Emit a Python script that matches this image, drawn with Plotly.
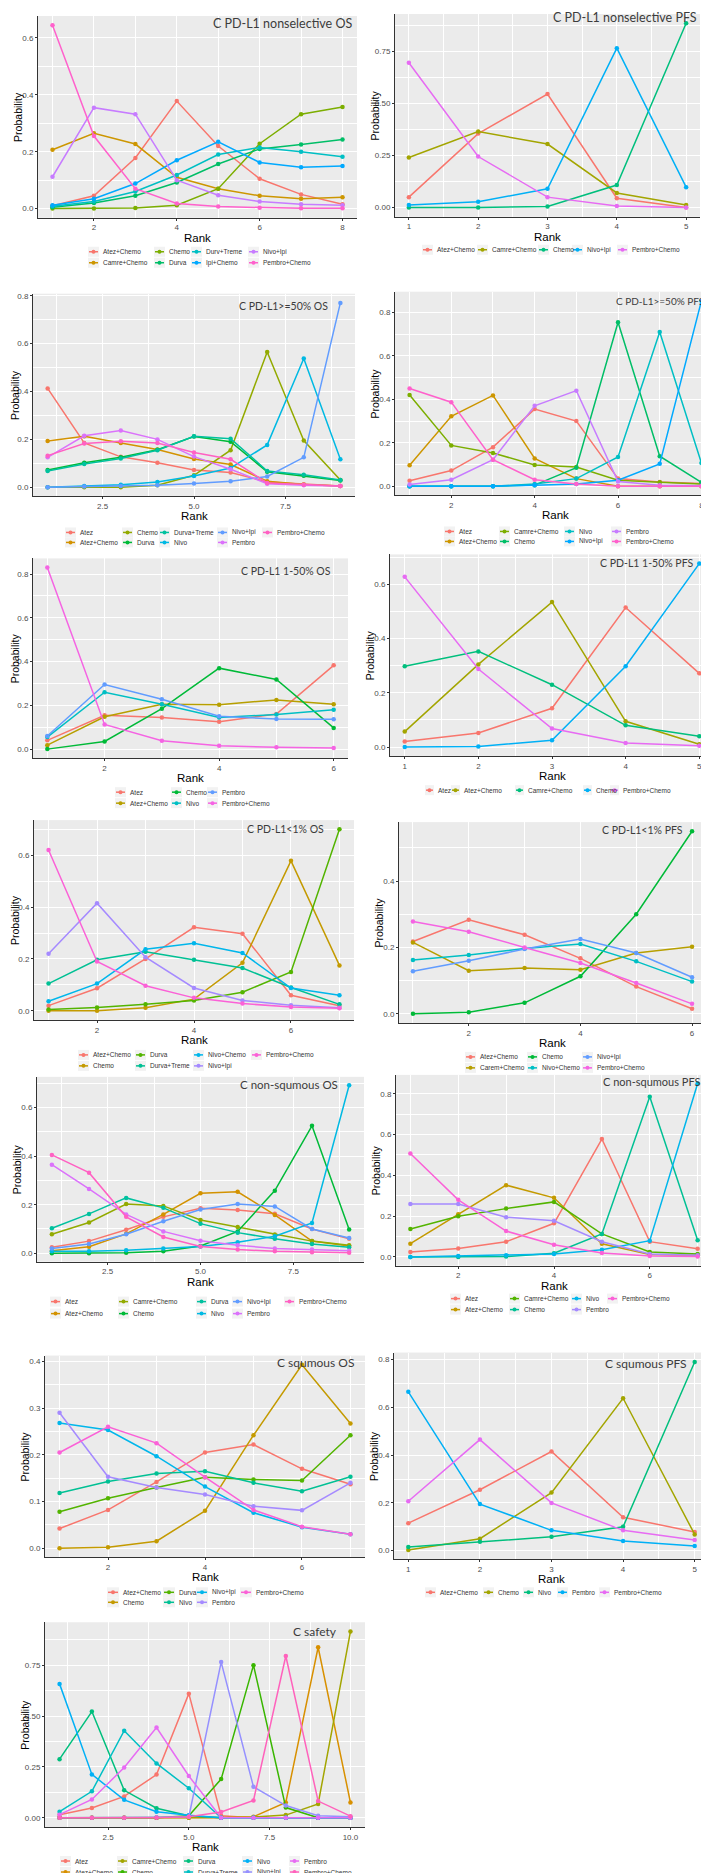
import plotly.graph_objects as go

W, H = 709, 1873

# ---------------- data (rank probabilities) ----------------
P1_NAMES = ["Atez+Chemo", "Camre+Chemo", "Chemo", "Durva", "Durv+Treme", "Ipi+Chemo", "Nivo+Ipi", "Pembro+Chemo"]
P1_PROBS = [
    [0.010, 0.045, 0.178, 0.378, 0.220, 0.105, 0.050, 0.015],
    [0.207, 0.265, 0.227, 0.110, 0.070, 0.045, 0.035, 0.040],
    [0.000, 0.000, 0.002, 0.012, 0.070, 0.228, 0.332, 0.357],
    [0.005, 0.020, 0.045, 0.092, 0.157, 0.210, 0.225, 0.243],
    [0.008, 0.025, 0.060, 0.118, 0.190, 0.215, 0.200, 0.182],
    [0.012, 0.035, 0.088, 0.170, 0.235, 0.162, 0.145, 0.150],
    [0.112, 0.355, 0.332, 0.100, 0.047, 0.025, 0.015, 0.012],
    [0.645, 0.255, 0.070, 0.018, 0.007, 0.003, 0.001, 0.001],
]

P2_NAMES = ["Atez+Chemo", "Camre+Chemo", "Chemo", "Nivo+Ipi", "Pembro+Chemo"]
P2_PROBS = [
    [0.050, 0.355, 0.545, 0.045, 0.000],
    [0.240, 0.365, 0.305, 0.070, 0.012],
    [0.000, 0.000, 0.005, 0.108, 0.885],
    [0.012, 0.028, 0.090, 0.765, 0.098],
    [0.695, 0.245, 0.050, 0.008, 0.000],
]

P3_NAMES = ["Atez", "Atez+Chemo", "Chemo", "Durva", "Durva+Treme", "Nivo", "Nivo+Ipi", "Pembro", "Pembro+Chemo"]
P3_PROBS = [
    [0.413, 0.185, 0.127, 0.102, 0.072, 0.062, 0.022, 0.012, 0.005],
    [0.193, 0.213, 0.185, 0.158, 0.118, 0.095, 0.025, 0.012, 0.005],
    [0.000, 0.000, 0.000, 0.008, 0.050, 0.155, 0.565, 0.195, 0.030],
    [0.072, 0.102, 0.125, 0.157, 0.212, 0.190, 0.065, 0.048, 0.028],
    [0.068, 0.097, 0.120, 0.155, 0.213, 0.203, 0.068, 0.052, 0.030],
    [0.000, 0.005, 0.010, 0.022, 0.047, 0.080, 0.177, 0.538, 0.117],
    [0.000, 0.003, 0.005, 0.008, 0.016, 0.025, 0.045, 0.125, 0.770],
    [0.125, 0.215, 0.237, 0.200, 0.128, 0.075, 0.015, 0.008, 0.005],
    [0.132, 0.183, 0.192, 0.185, 0.145, 0.117, 0.018, 0.010, 0.005],
]

P4_NAMES = ["Atez", "Atez+Chemo", "Camre+Chemo", "Chemo", "Nivo", "Nivo+Ipi", "Pembro", "Pembro+Chemo"]
P4_PROBS = [
    [0.025, 0.072, 0.180, 0.355, 0.300, 0.035, 0.020, 0.012],
    [0.097, 0.322, 0.418, 0.128, 0.035, 0.000, 0.000, 0.000],
    [0.420, 0.188, 0.153, 0.098, 0.088, 0.028, 0.018, 0.010],
    [0.000, 0.000, 0.000, 0.005, 0.085, 0.755, 0.138, 0.018],
    [0.000, 0.000, 0.000, 0.010, 0.035, 0.135, 0.710, 0.107],
    [0.000, 0.000, 0.000, 0.005, 0.010, 0.028, 0.103, 0.853],
    [0.008, 0.030, 0.122, 0.370, 0.440, 0.022, 0.005, 0.002],
    [0.450, 0.387, 0.122, 0.030, 0.010, 0.000, 0.000, 0.000],
]

P5_NAMES = ["Atez", "Atez+Chemo", "Chemo", "Nivo", "Pembro", "Pembro+Chemo"]
P5_PROBS = [
    [0.040, 0.155, 0.145, 0.125, 0.160, 0.383],
    [0.018, 0.148, 0.205, 0.203, 0.225, 0.205],
    [0.000, 0.035, 0.185, 0.370, 0.318, 0.097],
    [0.055, 0.260, 0.205, 0.145, 0.158, 0.180],
    [0.060, 0.295, 0.228, 0.150, 0.138, 0.137],
    [0.830, 0.113, 0.038, 0.015, 0.008, 0.005],
]

P6_NAMES = ["Atez", "Atez+Chemo", "Camre+Chemo", "Chemo", "Pembro+Chemo"]
P6_PROBS = [
    [0.020, 0.052, 0.143, 0.515, 0.272],
    [0.057, 0.305, 0.535, 0.095, 0.010],
    [0.298, 0.353, 0.230, 0.080, 0.040],
    [0.000, 0.002, 0.025, 0.298, 0.677],
    [0.628, 0.288, 0.068, 0.015, 0.005],
]

P7_NAMES = ["Atez+Chemo", "Chemo", "Durva", "Durva+Treme", "Nivo+Chemo", "Nivo+Ipi", "Pembro+Chemo"]
P7_PROBS = [
    [0.020, 0.087, 0.200, 0.322, 0.297, 0.060, 0.020],
    [0.000, 0.000, 0.012, 0.045, 0.185, 0.578, 0.175],
    [0.005, 0.013, 0.025, 0.040, 0.072, 0.150, 0.700],
    [0.105, 0.197, 0.228, 0.197, 0.165, 0.090, 0.025],
    [0.037, 0.105, 0.237, 0.260, 0.223, 0.088, 0.060],
    [0.220, 0.415, 0.207, 0.088, 0.040, 0.022, 0.012],
    [0.620, 0.190, 0.097, 0.050, 0.028, 0.015, 0.010],
]

P8_NAMES = ["Atez+Chemo", "Carem+Chemo", "Chemo", "Nivo+Chemo", "Nivo+Ipi", "Pembro+Chemo"]
P8_PROBS = [
    [0.218, 0.283, 0.238, 0.167, 0.082, 0.015],
    [0.215, 0.130, 0.138, 0.133, 0.183, 0.202],
    [0.000, 0.005, 0.033, 0.113, 0.300, 0.550],
    [0.162, 0.177, 0.197, 0.210, 0.158, 0.097],
    [0.128, 0.160, 0.195, 0.225, 0.183, 0.110],
    [0.278, 0.247, 0.200, 0.153, 0.093, 0.030],
]

P9_NAMES = ["Atez", "Atez+Chemo", "Camre+Chemo", "Chemo", "Durva", "Nivo", "Nivo+Ipi", "Pembro", "Pembro+Chemo"]
P9_PROBS = [
    [0.025, 0.050, 0.097, 0.150, 0.185, 0.178, 0.163, 0.100, 0.060],
    [0.010, 0.027, 0.080, 0.160, 0.247, 0.253, 0.158, 0.050, 0.030],
    [0.078, 0.127, 0.203, 0.195, 0.137, 0.108, 0.077, 0.050, 0.033],
    [0.000, 0.000, 0.002, 0.008, 0.030, 0.090, 0.258, 0.525, 0.098],
    [0.103, 0.162, 0.228, 0.187, 0.122, 0.085, 0.060, 0.038, 0.025],
    [0.008, 0.008, 0.012, 0.020, 0.028, 0.045, 0.070, 0.125, 0.692],
    [0.020, 0.038, 0.078, 0.132, 0.180, 0.203, 0.193, 0.100, 0.063],
    [0.365, 0.265, 0.160, 0.090, 0.052, 0.033, 0.020, 0.015, 0.010],
    [0.405, 0.332, 0.150, 0.067, 0.028, 0.015, 0.008, 0.004, 0.002],
]

P10_NAMES = ["Atez", "Atez+Chemo", "Camre+Chemo", "Chemo", "Nivo", "Pembro", "Pembro+Chemo"]
P10_PROBS = [
    [0.025, 0.042, 0.075, 0.165, 0.578, 0.075, 0.040],
    [0.065, 0.210, 0.352, 0.290, 0.065, 0.012, 0.008],
    [0.137, 0.200, 0.237, 0.270, 0.113, 0.025, 0.015],
    [0.000, 0.000, 0.002, 0.018, 0.113, 0.785, 0.082],
    [0.000, 0.005, 0.008, 0.015, 0.035, 0.080, 0.850],
    [0.260, 0.260, 0.195, 0.177, 0.075, 0.015, 0.008],
    [0.507, 0.280, 0.127, 0.060, 0.020, 0.005, 0.002],
]

P11_NAMES = ["Atez+Chemo", "Chemo", "Durva", "Nivo", "Nivo+Ipi", "Pembro", "Pembro+Chemo"]
P11_PROBS = [
    [0.042, 0.082, 0.142, 0.205, 0.222, 0.170, 0.137],
    [0.000, 0.002, 0.015, 0.080, 0.242, 0.393, 0.267],
    [0.078, 0.107, 0.130, 0.152, 0.147, 0.145, 0.242],
    [0.118, 0.143, 0.160, 0.165, 0.140, 0.122, 0.153],
    [0.268, 0.253, 0.197, 0.132, 0.076, 0.045, 0.030],
    [0.290, 0.153, 0.130, 0.115, 0.090, 0.081, 0.140],
    [0.205, 0.260, 0.225, 0.152, 0.082, 0.046, 0.030],
]

P12_NAMES = ["Atez+Chemo", "Chemo", "Nivo", "Pembro", "Pembro+Chemo"]
P12_PROBS = [
    [0.115, 0.255, 0.415, 0.140, 0.078],
    [0.003, 0.050, 0.243, 0.638, 0.068],
    [0.015, 0.037, 0.058, 0.100, 0.790],
    [0.665, 0.195, 0.085, 0.040, 0.020],
    [0.207, 0.465, 0.200, 0.085, 0.045],
]

P13_NAMES = ["Atez", "Atez+Chemo", "Camre+Chemo", "Chemo", "Durva", "Durva+Treme", "Nivo", "Nivo+Ipi", "Pembro", "Pembro+Chemo"]
P13_PROBS = [
    [0.015, 0.048, 0.105, 0.212, 0.610, 0.010, 0.000, 0.000, 0.000, 0.000],
    [0.000, 0.000, 0.000, 0.000, 0.000, 0.000, 0.005, 0.075, 0.838, 0.075],
    [0.000, 0.000, 0.000, 0.000, 0.000, 0.000, 0.003, 0.013, 0.068, 0.915],
    [0.000, 0.000, 0.000, 0.000, 0.010, 0.190, 0.750, 0.050, 0.000, 0.000],
    [0.288, 0.522, 0.135, 0.047, 0.010, 0.000, 0.000, 0.000, 0.000, 0.000],
    [0.030, 0.130, 0.428, 0.267, 0.145, 0.000, 0.000, 0.000, 0.000, 0.000],
    [0.658, 0.213, 0.088, 0.030, 0.012, 0.000, 0.000, 0.000, 0.000, 0.000],
    [0.000, 0.000, 0.000, 0.003, 0.005, 0.765, 0.152, 0.060, 0.010, 0.005],
    [0.015, 0.090, 0.247, 0.443, 0.205, 0.000, 0.000, 0.000, 0.000, 0.000],
    [0.000, 0.000, 0.000, 0.000, 0.005, 0.028, 0.085, 0.795, 0.082, 0.008],
]

TITLES = ["C PD-L1 nonselective OS", "C PD-L1 nonselective PFS",
          "C PD-L1>=50% OS", "C PD-L1>=50% PFS",
          "C PD-L1 1-50% OS", "C PD-L1 1-50% PFS",
          "C PD-L1<1% OS", "C PD-L1<1% PFS",
          "C non-squmous OS", "C non-squmous PFS",
          "C squmous OS", "C squmous PFS", "C safety"]

# ggplot2 default hue palettes
HUE = {
    5: ["#F8766D", "#A3A500", "#00BF7D", "#00B0F6", "#E76BF3"],
    6: ["#F8766D", "#B79F00", "#00BA38", "#00BFC4", "#619CFF", "#F564E3"],
    7: ["#F8766D", "#C49A00", "#53B400", "#00C094", "#00B6EB", "#A58AFF", "#FB61D7"],
    8: ["#F8766D", "#CD9600", "#7CAE00", "#00BE67", "#00BFC4", "#00A9FF", "#C77CFF", "#FF61CC"],
    9: ["#F8766D", "#D39200", "#93AA00", "#00BA38", "#00C19F", "#00B9E3", "#619CFF", "#DB72FB", "#FF61C3"],
    10: ["#F8766D", "#D89000", "#A3A500", "#39B600", "#00BF7D", "#00BFC4", "#00B0F6", "#9590FF", "#E76BF3", "#FF62BC"],
}

# ---------------- layout of each panel (pixels in the 709 x 1873 page) ----------------
# box = (left, right, top, bottom) of the grey panel
PANELS = [
    dict(names=P1_NAMES, probs=P1_PROBS, box=(30, 349, 6, 208), xt=[2, 4, 6, 8], ydt=0.2,
         title=(346, 14, 12.5), leg_rows=[242, 253], leg_cols=[81, 147, 184, 241]),
    dict(names=P2_NAMES, probs=P2_PROBS, box=(387, 692, 4, 207), xt=[1, 2, 3, 4, 5], ydt=0.25,
         title=(691, 8, 12.5), leg_rows=[240], leg_cols=[415, 470, 531, 565, 610]),
    dict(names=P3_NAMES, probs=P3_PROBS, box=(25, 347, 284, 487), xt=[2.5, 5.0, 7.5], ydt=0.2,
         title=(322, 296, 10.5), leg_rows=[523, 533], leg_cols=[58, 115, 152, 210, 255]),
    dict(names=P4_NAMES, probs=P4_PROBS, box=(387, 708, 282, 486), xt=[2, 4, 6, 8], ydt=0.2,
         title=(698, 291, 10), leg_rows=[522, 532], leg_cols=[437, 492, 557, 604]),
    dict(names=P5_NAMES, probs=P5_PROBS, box=(25, 340, 549, 749), xt=[2, 4, 6], ydt=0.2,
         title=(325, 562, 10.5), leg_rows=[783, 794], leg_cols=[108, 164, 200]),
    dict(names=P6_NAMES, probs=P6_PROBS, box=(382, 706, 545, 747), xt=[1, 2, 3, 4, 5], ydt=0.2,
         title=(687, 554, 10.5), leg_rows=[781], leg_cols=[418, 444, 508, 576, 603], to=10),
    dict(names=P7_NAMES, probs=P7_PROBS, box=(26, 346, 811, 1011), xt=[2, 4, 6], ydt=0.2,
         title=(318, 820, 10.5), leg_rows=[1046, 1057], leg_cols=[71, 128, 186, 244]),
    dict(names=P8_NAMES, probs=P8_PROBS, box=(391, 698, 813, 1014), xt=[2, 4, 6], ydt=0.2,
         title=(677, 821, 10.5), leg_rows=[1048, 1059], leg_cols=[458, 520, 575]),
    dict(names=P9_NAMES, probs=P9_PROBS, box=(29, 356, 1068, 1253), xt=[2.5, 5.0, 7.5], ydt=0.2,
         title=(332, 1076, 11.5), leg_rows=[1293, 1305], leg_cols=[43, 111, 189, 225, 277]),
    dict(names=P10_NAMES, probs=P10_PROBS, box=(388, 704, 1066, 1257), xt=[2, 4, 6], ydt=0.2,
         title=(694, 1073, 11), leg_rows=[1290, 1301], leg_cols=[443, 502, 564, 600]),
    dict(names=P11_NAMES, probs=P11_PROBS, box=(37, 357, 1347, 1549), xt=[2, 4, 6], ydt=0.1,
         title=(348, 1354, 12), leg_rows=[1584, 1594], leg_cols=[100, 156, 189, 233], to=13),
    dict(names=P12_NAMES, probs=P12_PROBS, box=(386, 701, 1344, 1551), xt=[1, 2, 3, 4, 5], ydt=0.2,
         title=(681, 1355, 12), leg_rows=[1584], leg_cols=[418, 476, 516, 550, 592]),
    dict(names=P13_NAMES, probs=P13_PROBS, box=(37, 357, 1614, 1819), xt=[2.5, 5.0, 7.5, 10.0], ydt=0.25,
         title=(331, 1623, 12), leg_rows=[1853, 1864], leg_cols=[53, 110, 176, 235, 282]),
]


def fx(p):
    return p / W


def fy(p):
    return 1 - p / H


def fmt_tick(v, dec):
    return f"{v:.{dec}f}"


fig = go.Figure()
TXT = "#4D4D4D"

for i, pan in enumerate(PANELS):
    k = "" if i == 0 else str(i + 1)
    names, probs = pan["names"], pan["probs"]
    cols = HUE[len(names)]
    n = len(probs[0])
    ranks = list(range(1, n + 1))
    x0, x1, y0, y1 = pan["box"]

    for nm, pr, c in zip(names, probs, cols):
        fig.add_trace(go.Scatter(
            x=ranks, y=pr, mode="lines+markers", name=nm, showlegend=False,
            line=dict(color=c, width=1.5), marker=dict(color=c, size=4.5),
            xaxis="x" + k, yaxis="y" + k))

    # ggplot-like scale expansion
    ymax = max(max(p) for p in probs)
    ymin = min(min(p) for p in probs)
    span = ymax - ymin
    yr = [ymin - 0.05 * span, ymax + 0.05 * span]
    xr = [1 - 0.05 * (n - 1), n + 0.05 * (n - 1)]

    ydt = pan["ydt"]
    ydec = 2 if ydt == 0.25 else 1
    yt = [round(j * ydt, 3) for j in range(0, 10) if j * ydt <= yr[1]]
    ymin_t = [round((j + 0.5) * ydt, 4) for j in range(-1, 10) if yr[0] < (j + 0.5) * ydt < yr[1]]
    xt = pan["xt"]
    xdec = 1 if any(isinstance(v, float) for v in xt) else 0
    xstep = xt[1] - xt[0]
    xmin_t = [xt[0] + (j + 0.5) * xstep for j in range(-3, 8)
              if xr[0] < xt[0] + (j + 0.5) * xstep < xr[1]]

    axis_common = dict(showline=True, linecolor="#333333", linewidth=1, ticks="outside",
                       ticklen=2, tickcolor="#333333", zeroline=False,
                       showgrid=True, gridcolor="white", gridwidth=1,
                       tickfont=dict(family="Liberation Sans", size=8, color=TXT))
    fig.update_layout(**{
        "xaxis" + k: dict(domain=[fx(x0), fx(x1)], range=xr, anchor="y" + k,
                          tickmode="array", tickvals=xt,
                          ticktext=[fmt_tick(v, xdec) for v in xt],
                          minor=dict(tickmode="array", tickvals=xmin_t, showgrid=True,
                                     gridcolor="white", gridwidth=0.5, ticks=""),
                          **axis_common),
        "yaxis" + k: dict(domain=[fy(y1), fy(y0)], range=yr, anchor="x" + k,
                          tickmode="array", tickvals=yt,
                          ticktext=[fmt_tick(v, ydec) for v in yt],
                          minor=dict(tickmode="array", tickvals=ymin_t, showgrid=True,
                                     gridcolor="white", gridwidth=0.5, ticks=""),
                          **axis_common),
    })

    # panel title inside top-right corner
    tx, ty, ts = pan["title"]
    fig.add_annotation(text=TITLES[i], x=fx(tx), y=fy(ty), xref="paper", yref="paper",
                       xanchor="right", yanchor="middle", showarrow=False,
                       font=dict(family="Lato", size=ts, color="#3C3C3C"))
    # axis titles; drop "Rank" a little where a tick label sits under the centre
    mid = (xr[0] + xr[1]) / 2
    dy = 20 if any(abs(v - mid) < 0.6 for v in xt) else 17
    fig.add_annotation(text="Rank", x=fx((x0 + x1) / 2), y=fy(y1 + dy), xref="paper",
                       yref="paper", xanchor="center", yanchor="middle", showarrow=False,
                       font=dict(family="Liberation Sans", size=11.5, color="black"))
    fig.add_annotation(text="Probability", x=fx(max(x0 - 20, 7)), y=fy((y0 + y1) / 2), xref="paper",
                       yref="paper", xanchor="center", yanchor="middle", showarrow=False,
                       textangle=-90, font=dict(family="Liberation Sans", size=10.5, color="black"))

    # legend below the panel, filled column by column like ggplot
    rows, lcols = pan["leg_rows"], pan["leg_cols"]
    to = pan.get("to", 12)
    nrow = len(rows)
    for j, (nm, c) in enumerate(zip(names, cols)):
        cidx, ridx = divmod(j, nrow) if nrow > 1 else (j, 0)
        gx, gy = lcols[cidx], rows[ridx]
        gl = to - 3
        fig.add_shape(type="rect", xref="paper", yref="paper", x0=fx(gx - 1), x1=fx(gx + gl + 1),
                      y0=fy(gy + 5), y1=fy(gy - 5), fillcolor="#F2F2F2", line=dict(width=0),
                      layer="below")
        fig.add_shape(type="line", xref="paper", yref="paper", x0=fx(gx), x1=fx(gx + gl),
                      y0=fy(gy), y1=fy(gy), line=dict(color=c, width=1.5))
        fig.add_shape(type="circle", xref="paper", yref="paper", x0=fx(gx + gl / 2 - 2),
                      x1=fx(gx + gl / 2 + 2), y0=fy(gy + 2), y1=fy(gy - 2),
                      fillcolor=c, line=dict(width=0))
        fig.add_annotation(text=nm, x=fx(gx + to), y=fy(gy), xref="paper", yref="paper",
                           xanchor="left", yanchor="middle", showarrow=False,
                           font=dict(family="Liberation Sans", size=6.5, color="#333333"))

fig.update_layout(
    width=W, height=H, margin=dict(l=0, r=0, t=0, b=0),
    paper_bgcolor="white", plot_bgcolor="#EBEBEB", showlegend=False,
)

fig.write_html("out.html")
